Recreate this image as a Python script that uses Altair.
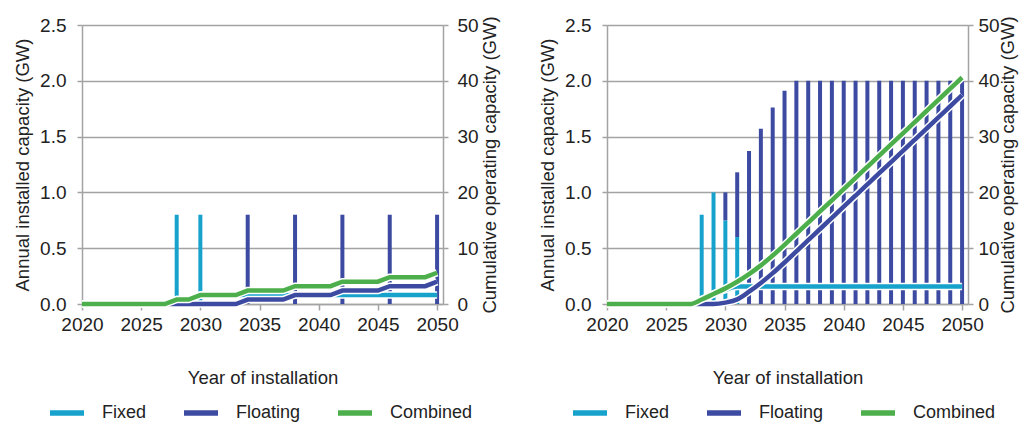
import altair as alt
import pandas as pd

years = list(range(2020, 2051))
series_names = ["Fixed", "Floating", "Combined"]
series_colors = ["#17a2cc", "#3c4ba1", "#4caf4b"]
x_ticks = [2020, 2025, 2030, 2035, 2040, 2045, 2050]
left_ticks = [0.0, 0.5, 1.0, 1.5, 2.0, 2.5]
right_ticks = [0, 10, 20, 30, 40, 50]

# ---- Left scenario: annual installed capacity (GW) ----
a_fixed_years = [2028, 2030]
a_fixed_vals = [0.8, 0.8]
a_float_years = [2034, 2038, 2042, 2046, 2050]
a_float_vals = [0.8, 0.8, 0.8, 0.8, 0.8]
# cumulative operating capacity (GW), 2020..2050
a_fixed_cum = [0, 0, 0, 0, 0, 0, 0, 0, 0.8, 0.8,
               1.6, 1.6, 1.6, 1.6, 1.6, 1.6, 1.6, 1.6, 1.6, 1.6,
               1.6, 1.6, 1.6, 1.6, 1.6, 1.6, 1.6, 1.6, 1.6, 1.6, 1.6]
a_float_cum = [0, 0, 0, 0, 0, 0, 0, 0, 0, 0,
               0, 0, 0, 0, 0.8, 0.8, 0.8, 0.8, 1.6, 1.6,
               1.6, 1.6, 2.4, 2.4, 2.4, 2.4, 3.2, 3.2, 3.2, 3.2, 4.0]
a_comb_cum = [0, 0, 0, 0, 0, 0, 0, 0, 0.8, 0.8,
              1.6, 1.6, 1.6, 1.6, 2.4, 2.4, 2.4, 2.4, 3.2, 3.2,
              3.2, 3.2, 4.0, 4.0, 4.0, 4.0, 4.8, 4.8, 4.8, 4.8, 5.6]

# ---- Right scenario ----
b_fixed_years = [2028, 2029, 2030, 2031]
b_fixed_vals = [0.8, 1.0, 0.75, 0.6]
b_float_years = [2030, 2031, 2032, 2033, 2034, 2035, 2036, 2037, 2038, 2039, 2040,
                 2041, 2042, 2043, 2044, 2045, 2046, 2047, 2048, 2049, 2050]
b_float_vals = [0.25, 0.58, 1.37, 1.57, 1.76, 1.91, 2.0, 2.0, 2.0, 2.0, 2.0,
                2.0, 2.0, 2.0, 2.0, 2.0, 2.0, 2.0, 2.0, 2.0, 2.0]
b_fixed_cum = [0, 0, 0, 0, 0, 0, 0, 0, 0.8, 1.8,
               2.55, 3.15, 3.15, 3.15, 3.15, 3.15, 3.15, 3.15, 3.15, 3.15,
               3.15, 3.15, 3.15, 3.15, 3.15, 3.15, 3.15, 3.15, 3.15, 3.15, 3.15]
b_float_cum = [0, 0, 0, 0, 0, 0, 0, 0, 0, 0,
               0.25, 0.83, 2.2, 3.77, 5.53, 7.44, 9.44, 11.44, 13.44, 15.44,
               17.44, 19.44, 21.44, 23.44, 25.44, 27.44, 29.44, 31.44, 33.44, 35.44, 37.44]
b_comb_cum = [0, 0, 0, 0, 0, 0, 0, 0, 0.8, 1.8,
              2.8, 3.98, 5.35, 6.92, 8.68, 10.59, 12.59, 14.59, 16.59, 18.59,
              20.59, 22.59, 24.59, 26.59, 28.59, 30.59, 32.59, 34.59, 36.59, 38.59, 40.59]

FONT = "Liberation Sans"
GRAY = "#a3a3a3"
TXT = "#222222"


def bars_frame(fy, fv, ly, lv):
    rows = [{"year": y, "value": v, "series": "Fixed", "order": 0} for y, v in zip(fy, fv)]
    rows += [{"year": y, "value": v, "series": "Floating", "order": 1} for y, v in zip(ly, lv)]
    return pd.DataFrame(rows)


def lines_frame(fc, lc, cc):
    rows = []
    for name, vals in zip(series_names, [fc, lc, cc]):
        rows += [{"year": y, "value": v, "series": name} for y, v in zip(years, vals)]
    return pd.DataFrame(rows)


def panel(bdf, ldf, interp, legend_x, r_label_pad, r_title_pad):
    x_enc = alt.X(
        "year:Q",
        scale=alt.Scale(domain=[2020, 2050.5], nice=False, zero=False, padding=0),
        axis=alt.Axis(values=x_ticks, format="d", title="Year of installation", grid=False,
                      labelFlush=False, labelOverlap=False, tickSize=6, labelPadding=5,
                      titlePadding=34, domainColor=GRAY, domainWidth=1.5, tickColor=GRAY,
                      tickWidth=1.5),
    )
    y_left = alt.Y(
        "value:Q", stack="zero",
        scale=alt.Scale(domain=[0, 2.5], nice=False),
        axis=alt.Axis(values=left_ticks, format=".1f", title="Annual installed capacity (GW)",
                      grid=True, gridColor=GRAY, gridWidth=1.5, domainColor=GRAY, domainWidth=1.5,
                      tickColor=GRAY, tickWidth=1.5, tickSize=5, labelPadding=11,
                      titlePadding=7, labelFlush=False, labelOverlap=False),
    )
    y_right = alt.Y(
        "value:Q",
        scale=alt.Scale(domain=[0, 50], nice=False),
        axis=alt.Axis(orient="right", values=right_ticks, format="d",
                      title="Cumulative operating capacity (GW)", grid=False,
                      domainColor=GRAY, domainWidth=1.5, tickColor=GRAY, tickWidth=1.5,
                      tickSize=5, labelPadding=r_label_pad, titlePadding=r_title_pad,
                      titleAngle=270, titleBaseline="top", labelFlush=False,
                      labelOverlap=False),
    )
    cscale = alt.Scale(domain=series_names, range=series_colors)
    legend = alt.Legend(orient="none", legendX=legend_x, legendY=368, direction="horizontal",
                        title=None, symbolType="stroke", symbolSize=1156, symbolStrokeWidth=5.5,
                        labelFontSize=18, labelFont=FONT, labelColor=TXT, labelOffset=15,
                        columnPadding=26, padding=0)
    bars = alt.Chart(bdf).mark_bar(size=4).encode(
        x=x_enc, y=y_left,
        color=alt.Color("series:N", scale=cscale, legend=legend),
        order=alt.Order("order:Q"),
    )
    layers = []
    for s in series_names:
        base = alt.Chart(ldf).transform_filter(alt.datum.series == s)
        layers.append(base.mark_line(strokeWidth=7.5, interpolate=interp, color="white").encode(
            x=x_enc, y=y_right))
        layers.append(base.mark_line(strokeWidth=4.5, interpolate=interp).encode(
            x=x_enc, y=y_right,
            color=alt.Color("series:N", scale=cscale, legend=legend)))
    lines = alt.layer(*layers)
    return alt.layer(bars, lines).resolve_scale(y="independent").properties(width=361, height=279)


left = panel(bars_frame(a_fixed_years, a_fixed_vals, a_float_years, a_float_vals),
             lines_frame(a_fixed_cum, a_float_cum, a_comb_cum), "linear", -35, 9, 2)
right = panel(bars_frame(b_fixed_years, b_fixed_vals, b_float_years, b_float_vals),
              lines_frame(b_fixed_cum, b_float_cum, b_comb_cum), "monotone", -37, 5, -1)

# fixed drawing surface: 1013 x 410 px, first plot's origin at (74, 17)
chart = alt.hconcat(left, right, spacing=39).resolve_scale(color="independent").resolve_legend(
    color="independent"
).properties(
    autosize=alt.AutoSizeParams(type="none"),
    padding={"left": 74, "top": 17, "right": 939, "bottom": 393},
).configure_axis(
    labelFont=FONT, titleFont=FONT, labelFontSize=19, titleFontSize=18.5,
    labelColor=TXT, titleColor=TXT, titleFontWeight="normal",
).configure_view(strokeWidth=0)

chart.save("out.html", embed_options={"renderer": "svg", "actions": False})
